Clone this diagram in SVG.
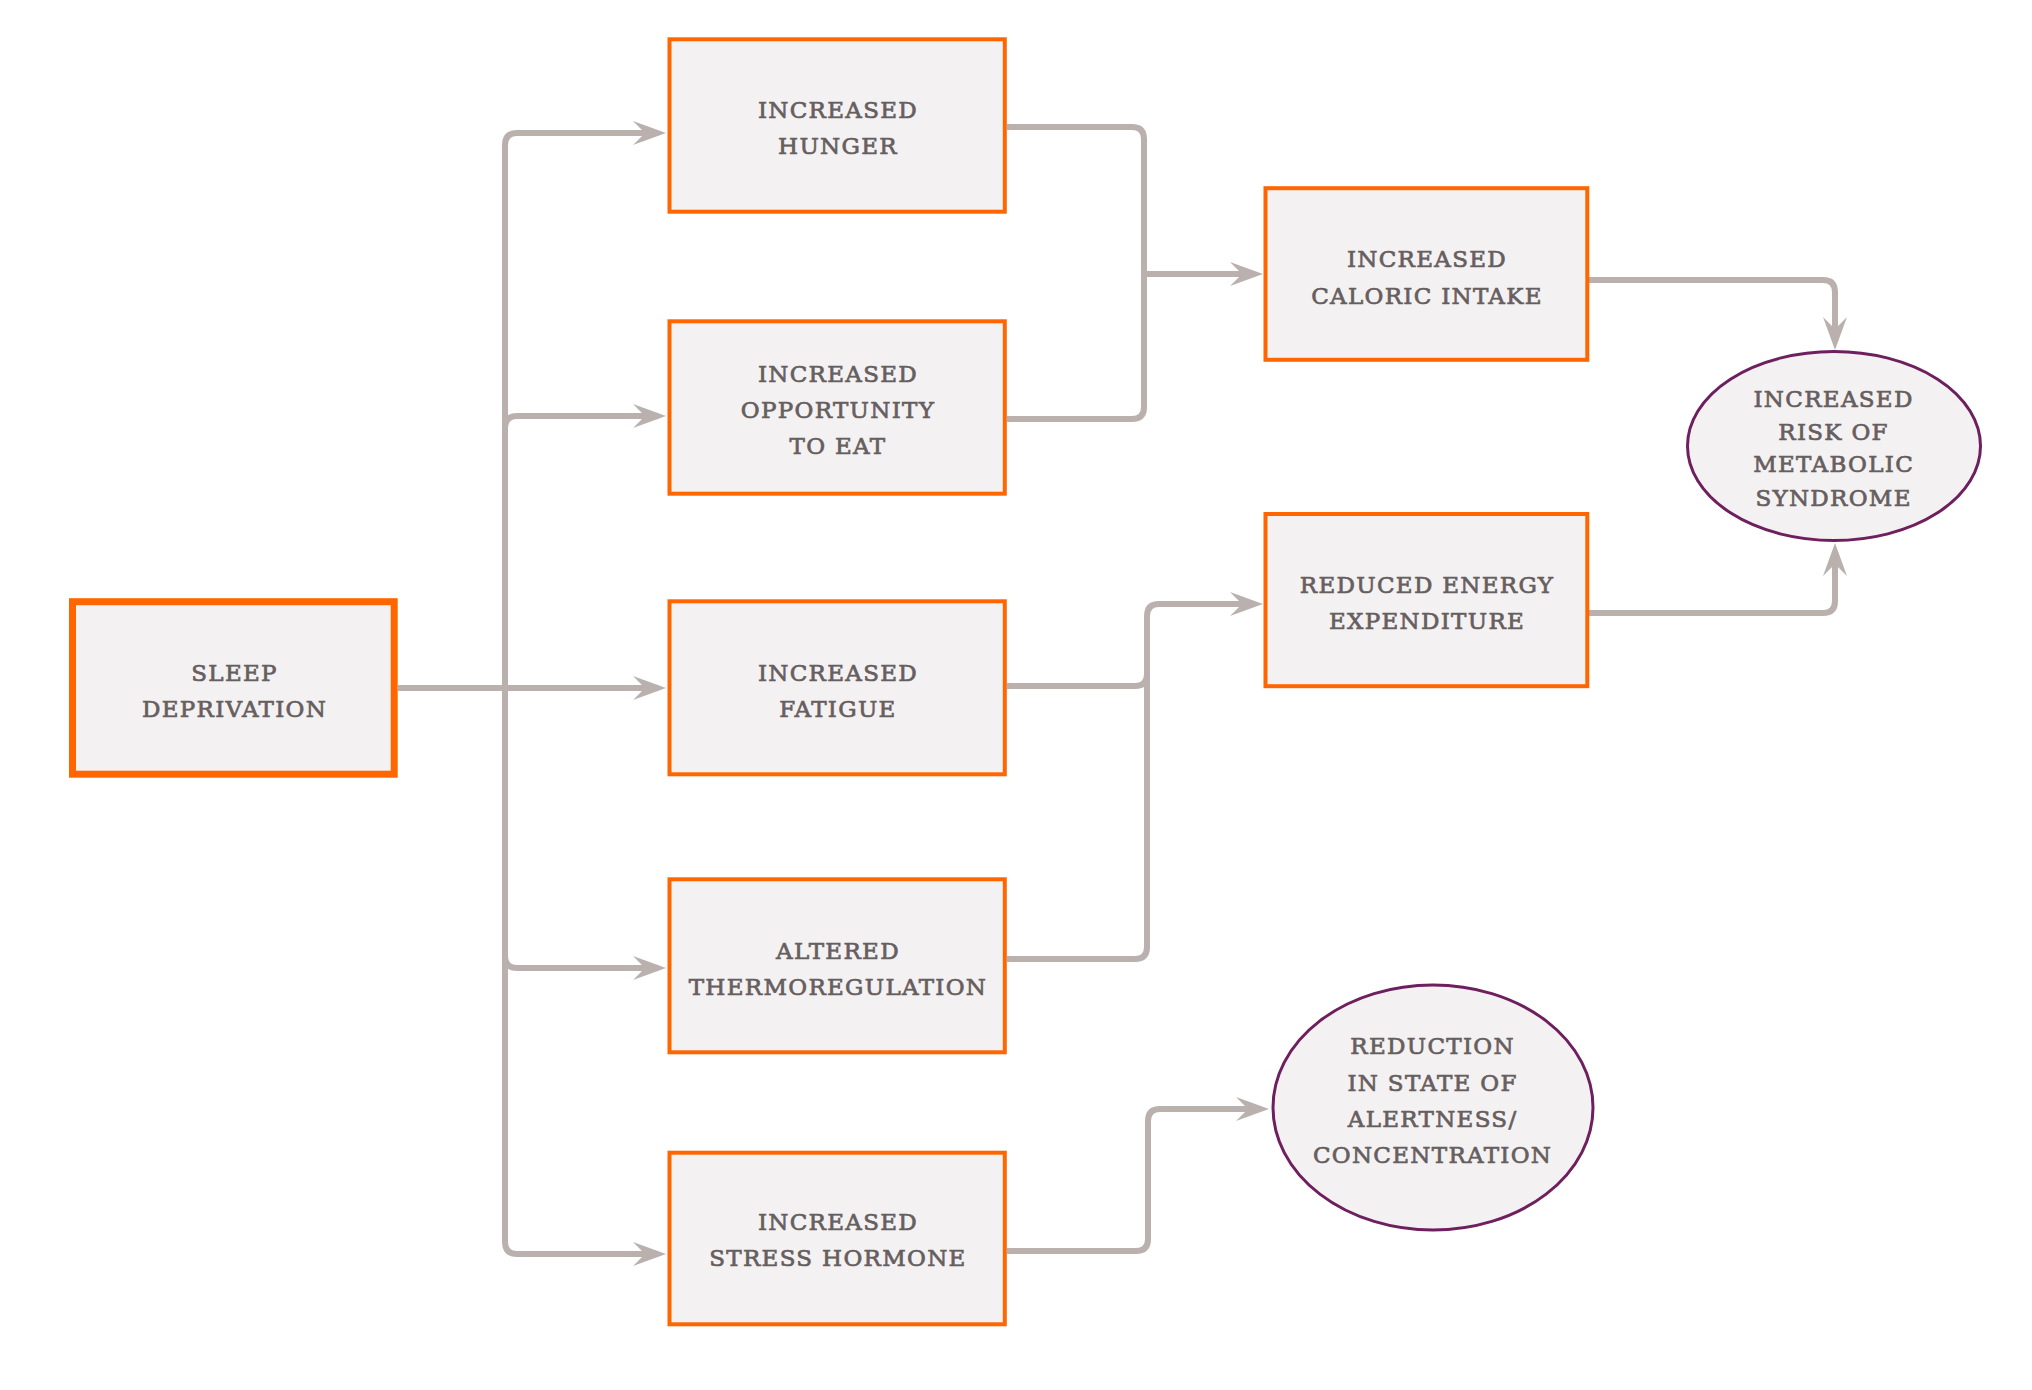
<svg xmlns="http://www.w3.org/2000/svg" width="2032" height="1390" viewBox="0 0 2032 1390">
  <style>
    .box { fill: #f3f1f1; stroke: #ff6600; stroke-width: 4; }
    .box.main { stroke-width: 7; }
    .oval { fill: #f3f1f1; stroke: #6e1f5e; stroke-width: 3; }
    .lbl { font-family: "DejaVu Serif", "Liberation Serif", serif; font-size: 23px; letter-spacing: 1.3px; fill: #675e5f; stroke: #675e5f; stroke-width: 0.7px; text-anchor: middle; }
    .conn { fill: none; stroke: #bab1ae; stroke-width: 6; stroke-linejoin: round; }
    .arr { marker-end: url(#ah); }
  </style>
  <defs>
    <marker id="ah" markerUnits="userSpaceOnUse" viewBox="0 -13 34 26" markerWidth="34" markerHeight="26" refX="12" refY="0" orient="auto" overflow="visible">
      <path d="M0,-12 L33,0 L0,12 L12,0 Z" fill="#bab1ae"/>
    </marker>
  </defs>
  <rect width="2032" height="1390" fill="#ffffff"/>

  <g id="connectors">
    <path class="conn arr" d="M398,688 H645"/>
    <path class="conn arr" d="M505,688 V145 Q505,133 517,133 H645"/>
    <path class="conn arr" d="M505,688 V428 Q505,416 517,416 H645"/>
    <path class="conn arr" d="M505,688 V956 Q505,968 517,968 H645"/>
    <path class="conn arr" d="M505,688 V1242 Q505,1254 517,1254 H645"/>
    <path class="conn" d="M1007,127 H1132 Q1144,127 1144,139 V274"/>
    <path class="conn" d="M1007,419 H1132 Q1144,419 1144,407 V274"/>
    <path class="conn arr" d="M1144,274 H1242"/>
    <path class="conn" d="M1007,686 H1135 Q1147,686 1147,674 V640"/>
    <path class="conn arr" d="M1007,959 H1135 Q1147,959 1147,947 V616 Q1147,604 1159,604 H1242"/>
    <path class="conn arr" d="M1589,280 H1823 Q1835,280 1835,292 V329"/>
    <path class="conn arr" d="M1589,613 H1823 Q1835,613 1835,601 V564"/>
    <path class="conn arr" d="M1007,1251 H1136 Q1148,1251 1148,1239 V1121 Q1148,1109 1160,1109 H1248"/>
  </g>

  <g id="sleep-deprivation">
    <rect class="box main" x="72.5" y="601.7" width="321.7" height="172.5"/>
    <text class="lbl" x="234.6" y="681">SLEEP</text>
    <text class="lbl" x="234.6" y="717">DEPRIVATION</text>
  </g>
  <g id="increased-hunger">
    <rect class="box" x="669.5" y="39.3" width="335.3" height="172.4"/>
    <text class="lbl" x="838" y="118.3">INCREASED</text>
    <text class="lbl" x="838" y="154.3">HUNGER</text>
  </g>
  <g id="increased-opportunity">
    <rect class="box" x="669.5" y="321.3" width="335.3" height="172.4"/>
    <text class="lbl" x="838" y="382.3">INCREASED</text>
    <text class="lbl" x="838" y="418.3">OPPORTUNITY</text>
    <text class="lbl" x="838" y="454.3">TO EAT</text>
  </g>
  <g id="increased-fatigue">
    <rect class="box" x="669.5" y="601.3" width="335.3" height="173"/>
    <text class="lbl" x="838" y="680.7">INCREASED</text>
    <text class="lbl" x="838" y="716.7">FATIGUE</text>
  </g>
  <g id="altered-thermoregulation">
    <rect class="box" x="669.5" y="879.3" width="335.3" height="173"/>
    <text class="lbl" x="838" y="959">ALTERED</text>
    <text class="lbl" x="838" y="995">THERMOREGULATION</text>
  </g>
  <g id="increased-stress-hormone">
    <rect class="box" x="669.5" y="1152.7" width="335.3" height="171.6"/>
    <text class="lbl" x="838" y="1230">INCREASED</text>
    <text class="lbl" x="838" y="1266">STRESS HORMONE</text>
  </g>
  <g id="increased-caloric-intake">
    <rect class="box" x="1265.5" y="188.2" width="321.8" height="171.6"/>
    <text class="lbl" x="1427" y="267.1">INCREASED</text>
    <text class="lbl" x="1427" y="303.6">CALORIC INTAKE</text>
  </g>
  <g id="reduced-energy-expenditure">
    <rect class="box" x="1265.5" y="514" width="321.8" height="172.2"/>
    <text class="lbl" x="1427" y="592.5">REDUCED ENERGY</text>
    <text class="lbl" x="1427" y="629">EXPENDITURE</text>
  </g>
  <g id="metabolic-syndrome">
    <ellipse class="oval" cx="1834" cy="446" rx="146.5" ry="94.5"/>
    <text class="lbl" x="1833.6" y="407">INCREASED</text>
    <text class="lbl" x="1833.6" y="439.6">RISK OF</text>
    <text class="lbl" x="1833.6" y="472.3">METABOLIC</text>
    <text class="lbl" x="1833.6" y="505.7">SYNDROME</text>
  </g>
  <g id="reduction-alertness">
    <ellipse class="oval" cx="1433" cy="1107.5" rx="160" ry="122.5"/>
    <text class="lbl" x="1432.6" y="1054.3">REDUCTION</text>
    <text class="lbl" x="1432.6" y="1090.7">IN STATE OF</text>
    <text class="lbl" x="1432.6" y="1126.7">ALERTNESS/</text>
    <text class="lbl" x="1432.6" y="1162.7">CONCENTRATION</text>
  </g>
</svg>
